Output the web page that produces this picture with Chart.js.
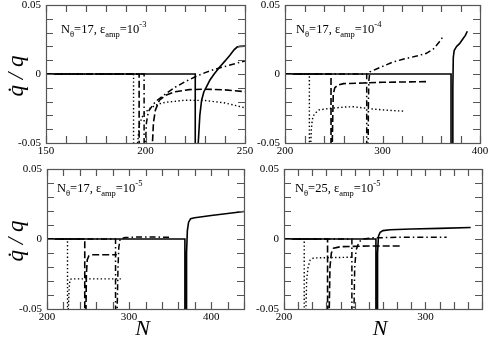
<!DOCTYPE html>
<html>
<head>
<meta charset="utf-8">
<script src="https://cdn.jsdelivr.net/npm/chart.js@4.4.1/dist/chart.umd.min.js"></script>
<style>
  html, body { margin: 0; padding: 0; background: #fff; }
  #wrap { position: relative; width: 491px; height: 338px; }
  #wrap canvas { position: absolute; left: 0; top: 0; }
</style>
</head>
<body>
<div id="wrap">
  <canvas id="c1" width="491" height="338"></canvas>
  <canvas id="c2" width="491" height="338"></canvas>
  <canvas id="c3" width="491" height="338"></canvas>
  <canvas id="c4" width="491" height="338"></canvas>
</div>
<script>
// valeurs (N, dq/q). -0.08 = hors du cadre (divergence)
const p1SolidN = [150, 225, 225, 226.5, 226.5, 227.3, 228.2, 229.3, 230.7, 232.4, 234.5, 237.4, 240, 242.5, 244.5, 246, 247.5, 250];
const p1SolidQ = [0, 0, -0.08, -0.08, -0.05, -0.03, -0.019, -0.013, -0.0092, -0.0043, 0, 0.0053, 0.0095, 0.0138, 0.0175, 0.0195, 0.02, 0.0202];
const p1DashN = [150, 196.8, 196.8, 203.5, 203.5, 204, 205, 207, 210, 215, 222, 230, 240, 250];
const p1DashQ = [0, 0, -0.08, -0.08, -0.05, -0.035, -0.026, -0.019, -0.0155, -0.0128, -0.0113, -0.011, -0.0115, -0.0128];
const p1DotN = [150, 194, 194, 196, 196, 197, 199, 202, 206, 210, 220, 230, 240, 250];
const p1DotQ = [0, 0, -0.08, -0.08, -0.05, -0.036, -0.029, -0.025, -0.022, -0.0205, -0.019, -0.0192, -0.021, -0.0245];
const p1DashDotN = [150, 199.3, 199.3, 200, 200, 200.5, 201.5, 205, 210, 215, 220, 225, 230, 235, 240, 245, 250];
const p1DashDotQ = [0, 0, -0.08, -0.08, -0.05, -0.035, -0.027, -0.02, -0.0145, -0.0095, -0.0055, -0.002, 0.001, 0.0035, 0.0055, 0.0075, 0.0095];

const p2SolidN = [200, 370.3, 370.3, 372, 372, 372.3, 372.6, 373.5, 376, 379, 382, 385, 387];
const p2SolidQ = [0, 0, -0.08, -0.08, -0.05, -0.01, 0.012, 0.017, 0.02, 0.022, 0.025, 0.028, 0.031];
const p2DashN = [200, 247.2, 247.2, 248.5, 248.5, 249, 249.5, 251, 254, 260, 280, 300, 320, 345];
const p2DashQ = [0, 0, -0.08, -0.08, -0.05, -0.03, -0.015, -0.01, -0.008, -0.007, -0.0065, -0.006, -0.0058, -0.0055];
const p2DotN = [200, 225, 225, 226.5, 226.5, 227, 228, 230, 235, 245, 260, 270, 285, 300, 323];
const p2DotQ = [0, 0, -0.08, -0.08, -0.05, -0.04, -0.033, -0.029, -0.026, -0.025, -0.024, -0.0237, -0.025, -0.026, -0.027];
const p2DashDotN = [200, 283.8, 283.8, 285.3, 285.3, 285.6, 286, 287, 295, 310, 320, 335, 345, 352, 358, 363];
const p2DashDotQ = [0, 0, -0.08, -0.08, -0.05, -0.02, -0.005, 0.0015, 0.004, 0.0085, 0.0105, 0.013, 0.015, 0.018, 0.023, 0.028];

const p3SolidN = [200, 368, 368, 369.7, 369.7, 370.3, 371, 372.5, 375, 380, 400, 420, 440];
const p3SolidQ = [0, 0, -0.08, -0.08, -0.05, -0.01, 0.006, 0.012, 0.0145, 0.0152, 0.0168, 0.0182, 0.0197];
const p3DashN = [200, 246, 246, 247.5, 247.5, 248, 249, 251, 255, 285];
const p3DashQ = [0, 0, -0.08, -0.08, -0.05, -0.025, -0.015, -0.012, -0.0113, -0.0112];
const p3DotN = [200, 225, 225, 226, 226, 227, 228, 230, 290];
const p3DotQ = [0, 0, -0.08, -0.08, -0.05, -0.035, -0.029, -0.0285, -0.0285];
const p3DashDotN = [200, 283.5, 283.5, 285.5, 285.5, 286.5, 287.5, 289, 295, 310, 330, 350];
const p3DashDotQ = [0, 0, -0.08, -0.08, -0.05, -0.02, -0.006, 0, 0.001, 0.0014, 0.0014, 0.0012];

const p4SolidN = [200, 265, 265, 266, 266, 266.3, 266.8, 268, 270, 275, 290, 310, 332];
const p4SolidQ = [0, 0, -0.08, -0.08, -0.05, -0.01, 0.002, 0.0048, 0.006, 0.0066, 0.0071, 0.0076, 0.0082];
const p4DashN = [200, 230.8, 230.8, 232, 232, 232.5, 233.5, 235, 240, 260, 283];
const p4DashQ = [0, 0, -0.08, -0.08, -0.05, -0.02, -0.01, -0.0065, -0.0055, -0.005, -0.005];
const p4DotN = [200, 214.3, 214.3, 215.5, 215.5, 216, 217, 218.5, 221, 249];
const p4DotQ = [0, 0, -0.08, -0.08, -0.05, -0.03, -0.02, -0.015, -0.0135, -0.013];
const p4DashDotN = [200, 248, 248, 249.5, 249.5, 250, 251, 253, 256, 262, 280, 315];
const p4DashDotQ = [0, 0, -0.08, -0.08, -0.05, -0.02, -0.008, -0.002, 0, 0.0008, 0.0012, 0.0012];

// graduations
const yTicks = [-0.05, -0.04, -0.03, -0.02, -0.01, 0, 0.01, 0.02, 0.03, 0.04, 0.05];
const yMajor = [-0.05, 0, 0.05];
const yTickLabels = ['-0.05', '0', '0.05'];
const xMajor1 = [150, 200, 250];
const xMajor2 = [200, 300, 400];
const xMajor3 = [200, 300, 400];
const xMajor4 = [200, 300];
const xTickLabels1 = ['150', '200', '250'];
const xTickLabels2 = ['200', '300', '400'];
const xTickLabels3 = ['200', '300', '400'];
const xTickLabels4 = ['200', '300'];

// titres des panneaux
const nTheta = ['17', '17', '17', '25'];
const ampExp = ['-3', '-4', '-5', '-5'];

const FONT = 'Liberation Serif';

function pts(xs, ys) {
  return xs.map((x, i) => ({ x: x, y: ys[i] }));
}

function series(xs, ys, style) {
  const base = { data: pts(xs, ys), borderColor: '#000', pointRadius: 0, fill: false, tension: 0 };
  if (style === 'solid') return Object.assign(base, { borderWidth: 1.6 });
  if (style === 'dash') return Object.assign(base, { borderWidth: 1.6, borderDash: [7, 3] });
  if (style === 'dot') return Object.assign(base, { borderWidth: 1.4, borderDash: [1.4, 2.4] });
  return Object.assign(base, { borderWidth: 1.5, borderDash: [6, 3, 1.5, 3] });
}

function ticksFrom(min, max, step) {
  const out = [];
  for (let v = min; v <= max + 1e-9; v += step) out.push(Math.round(v * 1000) / 1000);
  return out;
}

function labelFor(v, majors, labels) {
  const i = majors.findIndex((m) => Math.abs(m - v) < 1e-9);
  return i >= 0 ? labels[i] : '';
}

// texte avec indices / exposants
function drawRich(ctx, x, y, parts) {
  parts.forEach(([txt, kind]) => {
    let size = 12.5, dy = 0;
    if (kind === 'sub') { size = 8.5; dy = 4; }
    if (kind === 'sup') { size = 8.5; dy = -6; }
    ctx.font = size + 'px "' + FONT + '"';
    ctx.fillText(txt, x, y + dy);
    x += ctx.measureText(txt).width;
  });
}

const panelDecor = {
  id: 'panelDecor',
  afterDraw(chart) {
    const p = chart.options.plugins.panelDecor;
    const { ctx, chartArea: a, scales } = chart;
    ctx.save();
    ctx.strokeStyle = '#555';
    ctx.lineWidth = 1.2;
    ctx.strokeRect(a.left + 0.5, a.top + 0.5, a.right - a.left, a.bottom - a.top);

    // petites graduations vers l'intérieur, sur les quatre côtés
    ctx.beginPath();
    scales.x.ticks.forEach((t) => {
      const x = Math.round(scales.x.getPixelForValue(t.value)) + 0.5;
      ctx.moveTo(x, a.bottom); ctx.lineTo(x, a.bottom - 7);
      ctx.moveTo(x, a.top); ctx.lineTo(x, a.top + 7);
    });
    scales.y.ticks.forEach((t) => {
      const y = Math.round(scales.y.getPixelForValue(t.value)) + 0.5;
      ctx.moveTo(a.left, y); ctx.lineTo(a.left + 7, y);
      ctx.moveTo(a.right, y); ctx.lineTo(a.right - 7, y);
    });
    ctx.stroke();

    ctx.fillStyle = '#000';
    ctx.textAlign = 'left';
    ctx.textBaseline = 'alphabetic';
    drawRich(ctx, a.left + p.titleDx, a.top + p.titleDy, [
      ['N', ''], ['\u03b8', 'sub'], ['=' + p.nTheta + ', \u03b5', ''], ['amp', 'sub'], ['=10', ''], [p.exp, 'sup']
    ]);

    if (p.yTitle) {
      ctx.save();
      ctx.translate(17, (a.top + a.bottom) / 2 + 2);
      ctx.rotate(-Math.PI / 2);
      ctx.textAlign = 'center';
      ctx.textBaseline = 'middle';
      ctx.font = 'italic 23px "' + FONT + '"';
      ctx.fillText('q\u0307 / q', 0, 0);
      ctx.restore();
    }
    if (p.xTitle) {
      ctx.textAlign = 'center';
      ctx.textBaseline = 'alphabetic';
      ctx.font = 'italic 22px "' + FONT + '"';
      ctx.fillText('N', (a.left + a.right) / 2 - 3, 335);
    }
    ctx.restore();
  }
};

function makePanel(id, area, xMin, xMax, xStep, xMajor, xLabels, datasets, deco) {
  const yw = 30, xh = 18;
  return new Chart(document.getElementById(id), {
    type: 'line',
    data: { datasets: datasets },
    options: {
      responsive: false,
      animation: false,
      events: [],
      layout: {
        padding: { left: area[0] - yw, right: 491 - area[1], top: area[2], bottom: 338 - area[3] - xh }
      },
      plugins: { legend: { display: false }, tooltip: { enabled: false }, panelDecor: deco },
      scales: {
        x: {
          type: 'linear', min: xMin, max: xMax,
          grid: { display: false, drawTicks: false }, border: { display: false },
          afterBuildTicks: (s) => { s.ticks = ticksFrom(xMin, xMax, xStep).map((v) => ({ value: v })); },
          afterFit: (s) => { s.height = xh; s.paddingLeft = 0; s.paddingRight = 0; },
          ticks: {
            autoSkip: false, maxRotation: 0, padding: 2, color: '#000',
            font: { family: FONT, size: 11 },
            callback: (v) => labelFor(v, xMajor, xLabels)
          }
        },
        y: {
          type: 'linear', min: -0.05, max: 0.05,
          grid: { display: false, drawTicks: false }, border: { display: false },
          afterBuildTicks: (s) => { s.ticks = yTicks.map((v) => ({ value: v })); },
          afterFit: (s) => { s.width = yw; s.paddingTop = 0; s.paddingBottom = 0; },
          ticks: {
            autoSkip: false, padding: 5, color: '#000',
            font: { family: FONT, size: 11 },
            callback: (v) => labelFor(v, yMajor, yTickLabels)
          }
        }
      }
    },
    plugins: [panelDecor]
  });
}

makePanel('c1', [46, 245, 5, 143], 150, 250, 10, xMajor1, xTickLabels1, [
  series(p1SolidN, p1SolidQ, 'solid'),
  series(p1DashN, p1DashQ, 'dash'),
  series(p1DashDotN, p1DashDotQ, 'dashdot'),
  series(p1DotN, p1DotQ, 'dot')
], { titleDx: 15, titleDy: 28, nTheta: nTheta[0], exp: ampExp[0], yTitle: true, xTitle: false });

makePanel('c2', [285, 480, 5, 143], 200, 400, 20, xMajor2, xTickLabels2, [
  series(p2SolidN, p2SolidQ, 'solid'),
  series(p2DashN, p2DashQ, 'dash'),
  series(p2DashDotN, p2DashDotQ, 'dashdot'),
  series(p2DotN, p2DotQ, 'dot')
], { titleDx: 11, titleDy: 28, nTheta: nTheta[1], exp: ampExp[1], yTitle: false, xTitle: false });

makePanel('c3', [47, 244, 169, 309], 200, 440, 20, xMajor3, xTickLabels3, [
  series(p3SolidN, p3SolidQ, 'solid'),
  series(p3DashN, p3DashQ, 'dash'),
  series(p3DashDotN, p3DashDotQ, 'dashdot'),
  series(p3DotN, p3DotQ, 'dot')
], { titleDx: 10, titleDy: 23, nTheta: nTheta[2], exp: ampExp[2], yTitle: true, xTitle: true });

makePanel('c4', [284, 482, 169, 309], 200, 340, 10, xMajor4, xTickLabels4, [
  series(p4SolidN, p4SolidQ, 'solid'),
  series(p4DashN, p4DashQ, 'dash'),
  series(p4DashDotN, p4DashDotQ, 'dashdot'),
  series(p4DotN, p4DotQ, 'dot')
], { titleDx: 11, titleDy: 23, nTheta: nTheta[3], exp: ampExp[3], yTitle: false, xTitle: true });
</script>
</body>
</html>
